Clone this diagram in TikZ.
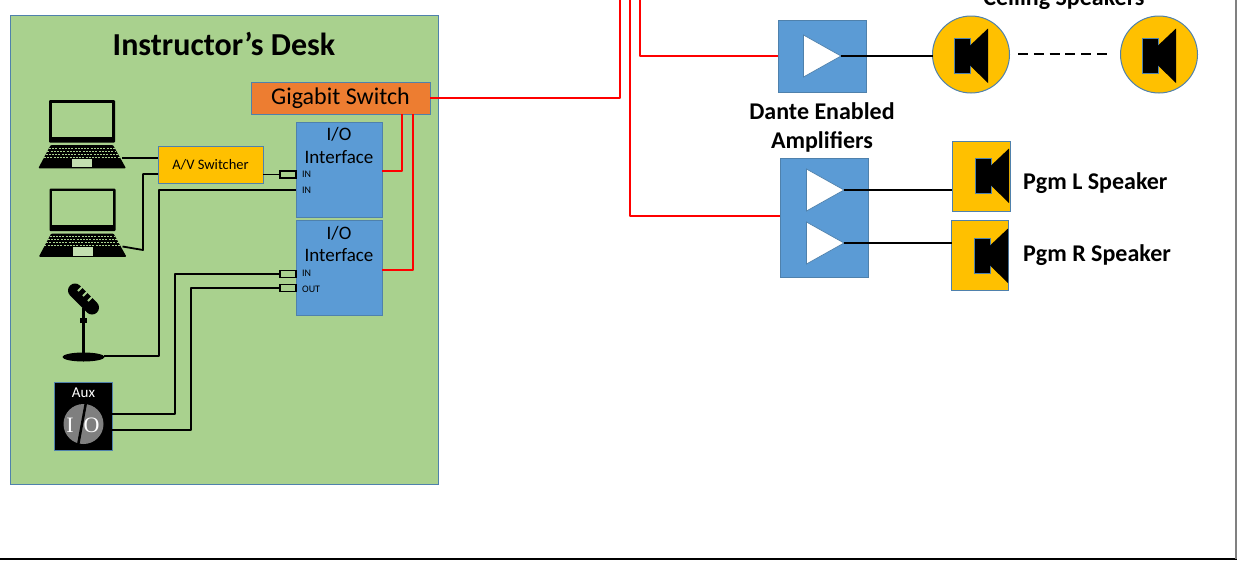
\documentclass[tikz,border=0pt]{standalone}
\usepackage{fontspec}
\setmainfont{Carlito}
\newfontfamily\knobfont{Liberation Serif}
\usepackage{tikz}
\usetikzlibrary{shapes.geometric}
\definecolor{deskgreen}{HTML}{A9D18E}
\definecolor{edgeblue}{HTML}{4F81AC}
\definecolor{boxblue}{HTML}{5B9BD5}
\definecolor{switchorange}{HTML}{ED7D31}
\definecolor{spkyellow}{HTML}{FFC000}
\definecolor{keygreen}{HTML}{A9D18E}
\definecolor{knobgray}{HTML}{7F7F7F}
\newcommand{\fsize}[1]{\fontsize{#1}{#1}\selectfont}
\begin{document}
\begin{tikzpicture}
        [x=1pt,y=-1pt,
        box/.style={draw=edgeblue,line width=1pt,inner sep=0pt,outer sep=0pt,rectangle},
        iobox/.style={box,fill=boxblue,minimum width=86pt,minimum height=95pt},
        ampbox/.style={box,fill=boxblue},
        stub/.style={draw=black,line width=1.5pt,fill=deskgreen,inner sep=0pt,outer sep=0pt,minimum width=16pt,minimum height=7pt},
        spk/.style={box,fill=spkyellow},
        title/.style={font=\fsize{24}\bfseries,inner sep=0pt},
        iotext/.style={font=\fsize{19},inner sep=0pt},
        porttext/.style={font=\fsize{10},inner sep=0pt,anchor=west},
        wire/.style={draw=black,line width=1.8pt,line join=round},
        redwire/.style={draw=red,line width=1.8pt,line join=round},
        amptri/.pic={
          \draw[fill=white,draw=edgeblue,line width=.7pt] (-37.5,-21) -- (0,0) -- (-37.5,21) -- cycle;
          \coordinate (-tip) at (0,0);
        },
        spkicon/.pic={
          \draw[fill=black,draw=edgeblue,line width=.8pt] (-16,-17.5) rectangle (0,17.5);
          \fill[black] (0,-10) -- (18,-27) -- (18,27.5) -- (0,10) -- cycle;
        },
        laptop/.pic={
          \fill[black,rounded corners=1pt] (49,100) rectangle (115,142.5);
          \fill[deskgreen] (51.8,102.8) rectangle (112,136.8);
          \fill[black,rounded corners=1pt] (50.7,145) -- (113,145) -- (126,168.3) -- (38.3,168.3) -- cycle;
          \foreach \k in {148,151,154,157}{
            \draw[keygreen,line width=1pt,dash pattern=on 2pt off 1.2pt] (50.7+145*.56-\k*.56,\k) -- (113-145*.56+\k*.56,\k);
          }
          \fill[deskgreen!70!white] (72.3,158.5) rectangle (92,167);
          \coordinate (-port) at (122,158);
        },
        ]
        \useasboundingbox (0,0) rectangle (1237,563);
        \clip (0,0) rectangle (1237,563);
        % Outer frame
        \coordinate (frameA) at (0,559);
        \coordinate (frameB) at (1236,559);
        \coordinate (frameC) at (1236,0);
        \draw[black,line width=2.6pt] (frameA) -- (1237,559);
        \draw[gray,line width=1.2pt] (frameB) -- (frameC);
        % Desk
        \node[box,fill=deskgreen,minimum width=428pt,minimum height=469pt] (desk) at (224,249.5){};
        \node[font=\fsize{32}\bfseries,inner sep=0pt] (desktitle) at (224,44){Instructor’s Desk};
        \node[box,fill=switchorange,minimum width=179pt,minimum height=32pt,font=\fsize{24}] (switch) at (340.5,98){Gigabit Switch};
        \node[box,fill=spkyellow,minimum width=105pt,minimum height=37pt,font=\fsize{14.5}] (avsw) at (210.5,164.5){A/V Switcher};
        % I/O boxes
        \node[iobox] (ioA) at (339,169.5){};
        \node[iobox] (ioB) at (339,268){};
        \node[iotext] (ioAa) at (339,134){I/O};
        \node[iotext] (ioAb) at (339,157){Interface};
        \node[iotext] (ioBa) at (339,233){I/O};
        \node[iotext] (ioBb) at (339,255.5){Interface};
        \node[porttext] (inA) at (302,174.5){IN};
        \node[porttext] (inB) at (302,190.5){IN};
        \node[porttext] (inC) at (302,273){IN};
        \node[porttext] (outC) at (302,289){OUT};
        \node[stub] (stubA) at (288,174.5){};
        \node[stub] (stubC) at (288,274){};
        \node[stub] (stubD) at (288,288){};
        \coordinate (ioAin) at (296,190);
        % Sources
        \pic (lapA) at (0,0) {laptop};
        \pic (lapB) at (.5,88.5) {laptop};
        % Microphone
        \node[ellipse,fill=black,inner sep=0pt,minimum width=42pt,minimum height=9pt] (micbase) at (83.5,357){};
        \coordinate (micport) at (104,356);
        \fill[black] (81.7,308) rectangle (85.2,355);
        \fill[black] (80,318) rectangle (87,323);
        \draw[black,line width=14pt,line cap=round] (75,290.5) -- (92,307.5);
        \foreach \s in {0,1,2}{
          \draw[deskgreen,line width=1.8pt] (78+5*\s,291+5*\s) -- (89+5*\s,280+5*\s);
        }
        % Aux
        \node[box,fill=black,minimum width=58pt,minimum height=68pt] (aux) at (83.5,416){};
        \node[text=white,font=\fsize{15},inner sep=0pt] (auxtext) at (83.5,393){Aux};
        \node[circle,fill=knobgray,inner sep=0pt,minimum size=40pt] (knob) at (83.5,424){};
        \draw[black,line width=2.5pt] (85.7,404) -- (78.3,444);
        \node[text=white,font=\fsize{22}\knobfont,inner sep=0pt] (knobi) at (70,425){I};
        \node[text=white,font=\fsize{22}\knobfont,inner sep=0pt] (knobo) at (91.5,425){O};
        \coordinate (auxA) at (112,414);
        \coordinate (auxB) at (112,430);
        % Wires in the desk
        \draw[wire] (lapA-port) -- (avsw.west |- lapA-port);
        \coordinate (avswb) at (158,174);
        \coordinate (lapBend) at (143,250);
        \draw[wire] (lapB-port) -- (lapBend) -- (lapBend |- avswb) -- (avswb);
        \draw[wire] (avsw.east |- stubA.west) -- (stubA.west);
        \draw[wire] (ioAin) -| (159,356) -- (micport);
        \draw[wire] (stubC.west) -| (175,414) -- (auxA);
        \draw[wire] (stubD.west) -| (191,430) -- (auxB);
        \draw[redwire] (402,114) |- (ioA.east |- 0,171);
        \draw[redwire] (413,114) |- (ioB.east |- 0,270);
        % Red trunk lines
        \draw[redwire] (switch.east) -| (620,0);
        % Amplifiers
        \node[ampbox,minimum width=88pt,minimum height=72pt] (ampA) at (822,56){};
        \node[ampbox,minimum width=88pt,minimum height=119pt] (ampB) at (824,217.5){};
        \pic (triA) at (841,56) {amptri};
        \pic (triB) at (844,190) {amptri};
        \pic (triC) at (844,243) {amptri};
        \coordinate (ampBin) at (780,216);
        \draw[redwire] (640,0) |- (ampA.west);
        \draw[redwire] (630,0) |- (ampBin);
        \node[title,anchor=base] (dantetext) at (822,119){Dante Enabled};
        \node[title,anchor=base] (amptext) at (822,148){Amplifiers};
        % Speakers
        \foreach \n/\x in {spkA/971,spkB/1159}{
          \node[spk,circle,minimum size=77pt] (\n) at (\x,54.5){};
          \pic at (\x-1,55.5) {spkicon};
        }
        \node[title] (ceiltext) at (1064,-1){Ceiling Speakers};
        \draw[wire] (triA-tip) -- (spkA.west |- triA-tip);
        \draw[black,line width=1.8pt,dash pattern=on 10pt off 5.8pt] (1018,54) -- (1107,54);
        \node[spk,minimum width=58pt,minimum height=70pt] (spkL) at (981,176){};
        \node[spk,minimum width=57pt,minimum height=70pt] (spkR) at (980,255){};
        \pic at (991,175.5) {spkicon};
        \pic at (990,255.5) {spkicon};
        \draw[wire] (triB-tip) -- (spkL.west |- triB-tip);
        \draw[wire] (triC-tip) -- (spkR.west |- triC-tip);
        \node[title,anchor=base west] (pgml) at (1023,189){Pgm L Speaker};
        \node[title,anchor=base west] (pgmr) at (1023,261){Pgm R Speaker};
      \end{tikzpicture}
\end{document}
